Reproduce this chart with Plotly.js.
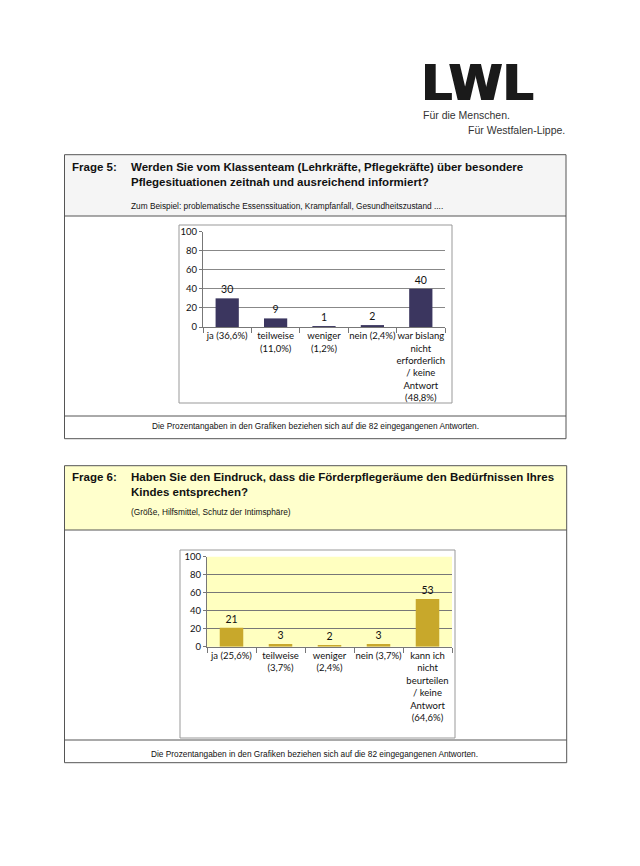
<!DOCTYPE html>
<html>
<head>
<meta charset="utf-8">
<script src="https://cdn.plot.ly/plotly-3.0.1.min.js"></script>
<style>
html,body{margin:0;padding:0;background:#fff;}
#chart{width:640px;height:866px;}
</style>
</head>
<body>
<div id="chart"></div>
<script>
// ---- Data ----
var categories5 = ["ja (36,6%)", "teilweise<br>(11,0%)", "weniger<br>(1,2%)", "nein (2,4%)", "war bislang<br>nicht<br>erforderlich<br>/ keine<br>Antwort<br>(48,8%)"];
var values5 = [30, 9, 1, 2, 40];
var categories6 = ["ja (25,6%)", "teilweise<br>(3,7%)", "weniger<br>(2,4%)", "nein (3,7%)", "kann ich<br>nicht<br>beurteilen<br>/ keine<br>Antwort<br>(64,6%)"];
var values6 = [21, 3, 2, 3, 53];
var yTicks = [0, 20, 40, 60, 80, 100];

var q5Title = "Werden Sie vom Klassenteam (Lehrkräfte, Pflegekräfte) über besondere<br>Pflegesituationen zeitnah und ausreichend informiert?";
var q5Sub = "Zum Beispiel: problematische Essenssituation, Krampfanfall, Gesundheitszustand ....";
var q6Title = "Haben Sie den Eindruck, dass die Förderpflegeräume den Bedürfnissen Ihres<br>Kindes entsprechen?";
var q6Sub = "(Größe, Hilfsmittel, Schutz der Intimsphäre)";
var footNote = "Die Prozentangaben in den Grafiken beziehen sich auf die 82 eingegangenen Antworten.";

// ---- Helpers (page pixel -> paper fraction) ----
var W = 640, H = 866;
function px(x){ return x / W; }
function py(y){ return 1 - y / H; }

var chartFont = "Lato, 'Open Sans', sans-serif";
var docFont = "'Liberation Sans', Arial, sans-serif";

var traces = [
  {type:"bar", x:categories5, y:values5, xaxis:"x", yaxis:"y",
   marker:{color:"#3b365f"}, text:values5.map(String), textposition:"outside",
   textfont:{family:chartFont, size:10.5, color:"#111"}, cliponaxis:false, hoverinfo:"none"},
  {type:"bar", x:categories6, y:values6, xaxis:"x2", yaxis:"y2",
   marker:{color:"#c8a82b"}, text:values6.map(String), textposition:"outside",
   textfont:{family:chartFont, size:10.5, color:"#111"}, cliponaxis:false, hoverinfo:"none"}
];

function xAx(d0, d1, anchor){
  return {domain:[px(d0), px(d1)], anchor:anchor, type:"category", showline:true, linecolor:"#777",
    ticks:"outside", tickson:"boundaries", ticklen:5, tickcolor:"#777", showgrid:false, tickangle:0,
    tickfont:{family:chartFont, size:9.5, color:"#111"}, fixedrange:true, automargin:false};
}
function yAx(top, bottom, anchor, grid){
  return {domain:[py(bottom), py(top)], anchor:anchor, range:[0,100], tickvals:yTicks,
    showgrid:true, gridcolor:grid, gridwidth:1, showline:true, linecolor:"#777",
    ticks:"outside", ticklen:3, tickcolor:"#777", zeroline:false,
    tickfont:{family:chartFont, size:9.5, color:"#111"}, fixedrange:true, automargin:false};
}

var shapes = [
  // Box 1
  {type:"rect", xref:"paper", yref:"paper", x0:px(64.5), x1:px(566), y0:py(154.7), y1:py(216), fillcolor:"#f5f5f5", line:{width:0}, layer:"below"},
  {type:"rect", xref:"paper", yref:"paper", x0:px(64.5), x1:px(566), y0:py(154.7), y1:py(438.7), line:{color:"#555", width:1}},
  {type:"line", xref:"paper", yref:"paper", x0:px(64.5), x1:px(566), y0:py(216), y1:py(216), line:{color:"#555", width:1}},
  {type:"line", xref:"paper", yref:"paper", x0:px(64.5), x1:px(566), y0:py(416), y1:py(416), line:{color:"#555", width:1}},
  {type:"rect", xref:"paper", yref:"paper", x0:px(179), x1:px(452), y0:py(225), y1:py(403), line:{color:"#999", width:1}},
  // Box 2
  {type:"rect", xref:"paper", yref:"paper", x0:px(64.5), x1:px(566.7), y0:py(465.7), y1:py(530), fillcolor:"#ffffcc", line:{width:0}, layer:"below"},
  {type:"rect", xref:"paper", yref:"paper", x0:px(64.5), x1:px(566.7), y0:py(465.7), y1:py(762.7), line:{color:"#555", width:1}},
  {type:"line", xref:"paper", yref:"paper", x0:px(64.5), x1:px(566.7), y0:py(530), y1:py(530), line:{color:"#555", width:1}},
  {type:"line", xref:"paper", yref:"paper", x0:px(64.5), x1:px(566.7), y0:py(740), y1:py(740), line:{color:"#555", width:1}},
  {type:"rect", xref:"paper", yref:"paper", x0:px(180), x1:px(455), y0:py(550), y1:py(738), line:{color:"#999", width:1}},
  // chart 2 plot background
  {type:"rect", xref:"x2 domain", yref:"y2 domain", x0:0, x1:1, y0:0, y1:1, fillcolor:"#ffffc0", line:{width:0}, layer:"below"}
];

function ann(text, x, y, size, opts){
  var a = {text:text, xref:"paper", yref:"paper", x:px(x), y:py(y), showarrow:false,
    xanchor:"left", yanchor:"middle", align:"left",
    font:{family:docFont, size:size, color:"#111"}};
  for (var k in (opts||{})) a[k] = opts[k];
  return a;
}

var annotations = [
  ann("LWL", 419, 83, 49, {height:40, font:{family:"'DejaVu Sans', sans-serif", size:49, color:"#1a1a1a", weight:"bold",
      shadow:"1px 0 0 #1a1a1a, -0.6px 0 0 #1a1a1a, 0 0.6px 0 #1a1a1a"}}),
  ann("Für die Menschen.", 421, 115, 10.5, {font:{family:docFont, size:10.5, color:"#333"}}),
  ann("Für Westfalen-Lippe.", 567, 129.5, 10.5, {xanchor:"right", font:{family:docFont, size:10.5, color:"#333"}}),
  ann("<b>Frage 5:</b>", 70, 167, 11.5),
  ann("<b>" + q5Title + "</b>", 129, 174.5, 11.5),
  ann(q5Sub, 129, 206, 8.3),
  ann(footNote, 315, 426, 8.3, {xanchor:"center", align:"center"}),
  ann("<b>Frage 6:</b>", 70, 477, 11.5),
  ann("<b>" + q6Title + "</b>", 129, 484.5, 11.5),
  ann(q6Sub, 129, 512, 8.3),
  ann(footNote, 314, 754, 8.3, {xanchor:"center", align:"center"})
];

var layout = {
  width:W, height:H, margin:{l:0, r:0, t:0, b:0},
  paper_bgcolor:"#ffffff", plot_bgcolor:"rgba(0,0,0,0)",
  showlegend:false, bargap:0.52,
  xaxis: xAx(203, 445, "y"),
  yaxis: yAx(231.5, 327, "x", "#888"),
  xaxis2: xAx(207, 452, "y2"),
  yaxis2: yAx(556.7, 646.7, "x2", "#777"),
  shapes: shapes,
  annotations: annotations
};

Plotly.newPlot("chart", traces, layout, {displayModeBar:false, staticPlot:true});
</script>
</body>
</html>
